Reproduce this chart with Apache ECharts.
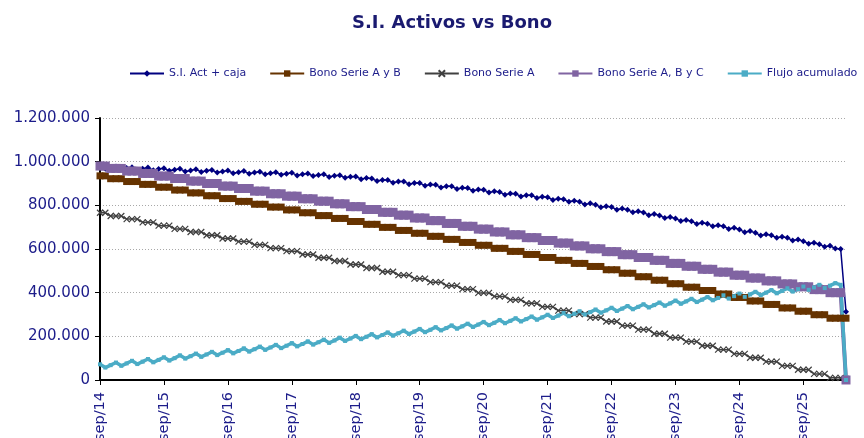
<!DOCTYPE html>
<html>
<head>
<meta charset="utf-8">
<script src="https://cdn.jsdelivr.net/npm/echarts@6/dist/echarts.min.js"></script>
<style>
html,body{margin:0;padding:0;background:#fff;}
#chart{width:864px;height:438px;}
</style>
</head>
<body>
<div id="chart"></div>
<script>
const titleText = 'S.I. Activos vs Bono';
const seriesNames = ['S.I. Act + caja', 'Bono Serie A y B', 'Bono Serie A', 'Bono Serie A, B y C', 'Flujo acumulado'];
const yTicks = [0, 200000, 400000, 600000, 800000, 1000000, 1200000];

const categories = [
'sep/14','oct/14','nov/14','dic/14',
'ene/15','feb/15','mar/15','abr/15','may/15','jun/15','jul/15','ago/15','sep/15','oct/15','nov/15','dic/15',
'ene/16','feb/16','mar/16','abr/16','may/16','jun/16','jul/16','ago/16','sep/16','oct/16','nov/16','dic/16',
'ene/17','feb/17','mar/17','abr/17','may/17','jun/17','jul/17','ago/17','sep/17','oct/17','nov/17','dic/17',
'ene/18','feb/18','mar/18','abr/18','may/18','jun/18','jul/18','ago/18','sep/18','oct/18','nov/18','dic/18',
'ene/19','feb/19','mar/19','abr/19','may/19','jun/19','jul/19','ago/19','sep/19','oct/19','nov/19','dic/19',
'ene/20','feb/20','mar/20','abr/20','may/20','jun/20','jul/20','ago/20','sep/20','oct/20','nov/20','dic/20',
'ene/21','feb/21','mar/21','abr/21','may/21','jun/21','jul/21','ago/21','sep/21','oct/21','nov/21','dic/21',
'ene/22','feb/22','mar/22','abr/22','may/22','jun/22','jul/22','ago/22','sep/22','oct/22','nov/22','dic/22',
'ene/23','feb/23','mar/23','abr/23','may/23','jun/23','jul/23','ago/23','sep/23','oct/23','nov/23','dic/23',
'ene/24','feb/24','mar/24','abr/24','may/24','jun/24','jul/24','ago/24','sep/24','oct/24','nov/24','dic/24',
'ene/25','feb/25','mar/25','abr/25','may/25','jun/25','jul/25','ago/25','sep/25','oct/25','nov/25','dic/25',
'ene/26','feb/26','mar/26','abr/26','may/26'
];

const siActCaja = [
980000,968000,973000, 978000,966000,971000, 975000,963000,968000, 973000,961000,966000,
970000,958000,963000, 967000,955000,960000, 965000,953000,958000, 962000,950000,955000,
959000,947000,952000, 957000,945000,950000, 954000,942000,947000, 952000,940000,945000,
949000,937000,942000, 946000,934000,939000, 942000,930000,935000, 938000,926000,931000,
932000,920000,925000, 923000,911000,916000, 916000,904000,909000, 909000,897000,902000,
902000,890000,895000, 894000,882000,887000, 887000,875000,880000, 879000,867000,872000,
871000,859000,864000, 861000,849000,854000, 853000,841000,846000, 846000,834000,839000,
837000,825000,830000, 828000,816000,821000, 816000,804000,809000, 803000,791000,796000,
792000,780000,785000, 780000,768000,773000, 767000,755000,760000, 754000,742000,747000,
740000,728000,733000, 727000,715000,720000, 716000,704000,709000, 704000,692000,697000,
689000,677000,682000, 674000,662000,667000, 663000,651000,656000, 651000,639000,644000,
636000,624000,629000, 622000,610000,615000, 602000,600000,313000
];

const bonoSerieAyB = [
935000,935000,
922000,922000,922000, 909000,909000,909000, 896000,896000,896000, 883000,883000,883000,
870000,870000,870000, 857000,857000,857000, 844000,844000,844000, 831000,831000,831000,
818000,818000,818000, 805000,805000,805000, 792000,792000,792000, 779000,779000,779000,
766000,766000,766000, 753000,753000,753000, 740000,740000,740000, 726000,726000,726000,
713000,713000,713000, 699000,699000,699000, 685000,685000,685000, 672000,672000,672000,
658000,658000,658000, 644000,644000,644000, 630000,630000,630000, 617000,617000,617000,
603000,603000,603000, 589000,589000,589000, 575000,575000,575000, 561000,561000,561000,
548000,548000,548000, 534000,534000,534000, 520000,520000,520000, 505000,505000,505000,
489000,489000,489000, 473000,473000,473000, 457000,457000,457000, 441000,441000,441000,
425000,425000,425000, 410000,410000,410000, 394000,394000,394000, 378000,378000,378000,
362000,362000,362000, 346000,346000,346000, 330000,330000,330000, 315000,315000,315000,
299000,299000,299000, 283000,283000,283000,283000
];

const bonoSerieA = [
766000,766000,
751000,751000,751000, 737000,737000,737000, 722000,722000,722000, 707000,707000,707000,
692000,692000,692000, 678000,678000,678000, 663000,663000,663000, 648000,648000,648000,
634000,634000,634000, 619000,619000,619000, 604000,604000,604000, 590000,590000,590000,
575000,575000,575000, 560000,560000,560000, 545000,545000,545000, 529000,529000,529000,
513000,513000,513000, 496000,496000,496000, 480000,480000,480000, 464000,464000,464000,
448000,448000,448000, 432000,432000,432000, 416000,416000,416000, 399000,399000,399000,
383000,383000,383000, 367000,367000,367000, 351000,351000,351000, 335000,335000,335000,
318000,318000,318000, 302000,302000,302000, 286000,286000,286000, 268000,268000,268000,
249000,249000,249000, 231000,231000,231000, 212000,212000,212000, 194000,194000,194000,
176000,176000,176000, 157000,157000,157000, 139000,139000,139000, 120000,120000,120000,
102000,102000,102000, 84000,84000,84000, 65000,65000,65000, 47000,47000,47000,
28000,28000,28000, 10000,10000,10000,5000
];

const bonoSerieABC = [
980000,980000,
969000,969000,969000, 957000,957000,957000, 946000,946000,946000, 934000,934000,934000,
923000,923000,923000, 911000,911000,911000, 900000,900000,900000, 888000,888000,888000,
877000,877000,877000, 865000,865000,865000, 853000,853000,853000, 842000,842000,842000,
830000,830000,830000, 819000,819000,819000, 807000,807000,807000, 794000,794000,794000,
781000,781000,781000, 768000,768000,768000, 755000,755000,755000, 742000,742000,742000,
730000,730000,730000, 717000,717000,717000, 704000,704000,704000, 691000,691000,691000,
678000,678000,678000, 665000,665000,665000, 652000,652000,652000, 639000,639000,639000,
627000,627000,627000, 614000,614000,614000, 601000,601000,601000, 588000,588000,588000,
574000,574000,574000, 561000,561000,561000, 548000,548000,548000, 534000,534000,534000,
521000,521000,521000, 507000,507000,507000, 494000,494000,494000, 480000,480000,480000,
467000,467000,467000, 454000,454000,454000, 440000,440000,440000, 427000,427000,427000,
414000,414000,414000, 400000,400000,400000,0
];

const flujoAcumulado = [
72000,57000,68000, 80000,65000,76000, 88000,73000,84000, 96000,81000,92000,
104000,89000,100000, 113000,98000,109000, 121000,106000,117000, 129000,114000,125000,
137000,122000,133000, 145000,130000,141000, 153000,138000,149000, 161000,146000,157000,
169000,154000,165000, 177000,162000,173000, 185000,170000,181000, 194000,179000,190000,
202000,187000,198000, 210000,195000,206000, 218000,203000,214000, 226000,211000,222000,
234000,219000,230000, 242000,227000,238000, 250000,235000,246000, 258000,243000,254000,
266000,251000,262000, 275000,260000,271000, 283000,268000,279000, 291000,276000,287000,
299000,284000,295000, 307000,292000,303000, 315000,300000,311000, 323000,308000,319000,
331000,316000,327000, 339000,324000,335000, 347000,332000,343000, 355000,340000,351000,
364000,349000,360000, 372000,357000,368000, 380000,365000,376000, 388000,373000,384000,
396000,381000,392000, 404000,389000,400000, 412000,397000,408000, 420000,405000,416000,
428000,413000,424000, 436000,421000,432000, 444000,436000,0
];

const textColor = '#1c1c8a';
const fontFam = 'DejaVu Sans, Verdana, sans-serif';
function fmt(v) {
  return String(v).replace(/\B(?=(\d{3})+(?!\d))/g, '.');
}
const xSym = 'path://M0,0L10,10M10,0L0,10';

const chart = echarts.init(document.getElementById('chart'), null, {renderer: 'canvas'});
chart.setOption({
  animation: false,
  backgroundColor: '#ffffff',
  title: {
    text: titleText,
    left: 347,
    top: 9,
    textStyle: {fontFamily: fontFam, fontSize: 18, fontWeight: 'bold', color: '#1a1a70'}
  },
  legend: {
    left: 124,
    top: 63,
    width: 740,
    orient: 'horizontal',
    itemWidth: 34,
    itemHeight: 8,
    itemGap: 23,
    textStyle: {fontFamily: fontFam, fontSize: 11, color: textColor},
    data: seriesNames
  },
  grid: {left: 100, right: 18, top: 118, bottom: 58, containLabel: false, outerBoundsMode: 'none'},
  xAxis: {
    type: 'category',
    data: categories,
    boundaryGap: false,
    axisLine: {show: true, lineStyle: {color: '#000', width: 2}},
    axisTick: {show: true, interval: 11, length: 5, inside: false, lineStyle: {color: '#000', width: 1}},
    axisLabel: {interval: 11, rotate: 90, margin: 12, color: textColor, fontFamily: fontFam, fontSize: 14.5},
    splitLine: {show: false}
  },
  yAxis: {
    type: 'value',
    min: yTicks[0],
    max: yTicks[yTicks.length - 1],
    interval: 200000,
    axisLine: {show: true, lineStyle: {color: '#000', width: 2}},
    axisTick: {show: true, length: 5, lineStyle: {color: '#000', width: 1}},
    axisLabel: {formatter: fmt, margin: 10, color: textColor, fontFamily: fontFam, fontSize: 15},
    splitLine: {show: true, lineStyle: {color: '#a8a8a8', type: [1, 2], width: 1}}
  },
  series: [
    {
      name: seriesNames[0], type: 'line', data: siActCaja,
      showAllSymbol: true, symbol: 'diamond', symbolSize: 6,
      itemStyle: {color: '#000080'},
      lineStyle: {color: '#000080', width: 1.5}
    },
    {
      name: seriesNames[1], type: 'line', data: bonoSerieAyB,
      showAllSymbol: true, symbol: 'rect', symbolSize: 7,
      itemStyle: {color: '#663300'},
      lineStyle: {color: '#663300', width: 3}
    },
    {
      name: seriesNames[2], type: 'line', data: bonoSerieA,
      showAllSymbol: true, symbol: xSym, symbolSize: 6,
      itemStyle: {color: 'rgba(0,0,0,0)', borderColor: '#404040', borderWidth: 1.2},
      lineStyle: {color: '#404040', width: 1.5}
    },
    {
      name: seriesNames[3], type: 'line', data: bonoSerieABC,
      showAllSymbol: true, symbol: 'rect', symbolSize: 9,
      itemStyle: {color: '#8064A2'},
      lineStyle: {color: '#8064A2', width: 4}
    },
    {
      name: seriesNames[4], type: 'line', data: flujoAcumulado,
      showAllSymbol: true, symbol: 'rect', symbolSize: 4,
      itemStyle: {color: '#4BACC6'},
      lineStyle: {color: '#4BACC6', width: 3.5}
    }
  ]
});
</script>
</body>
</html>
